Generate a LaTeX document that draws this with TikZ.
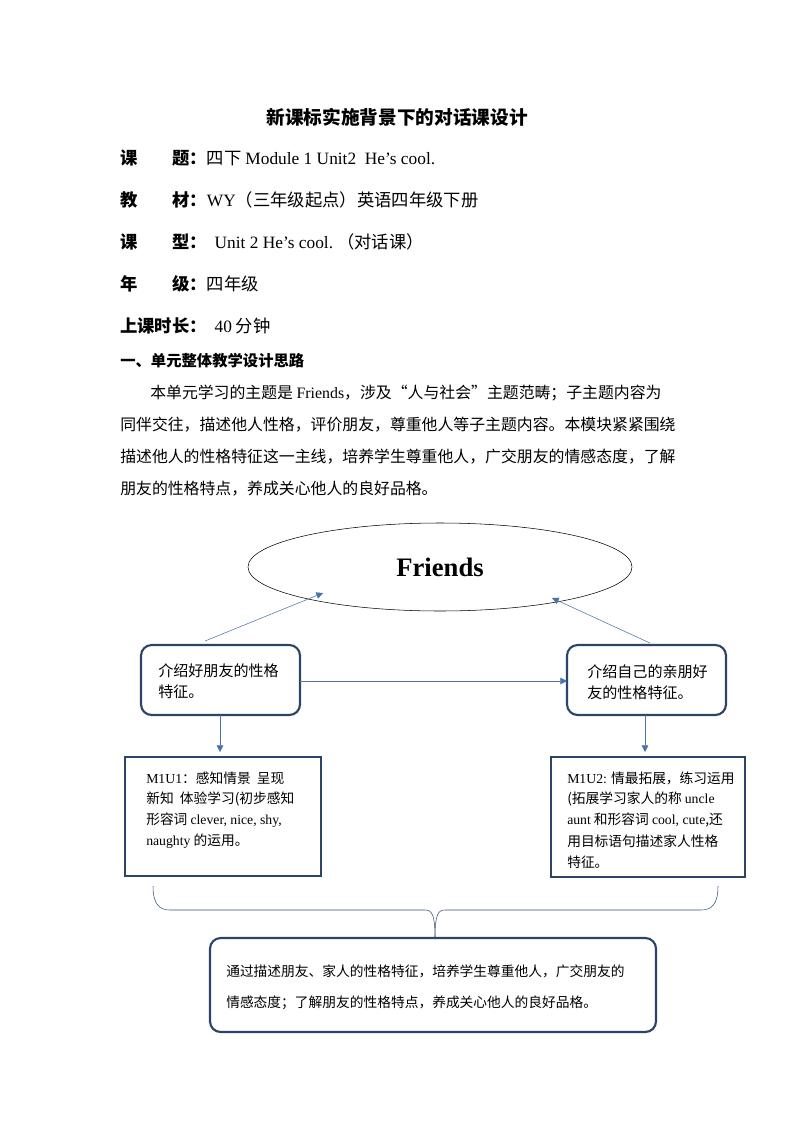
\documentclass[tikz,border=0pt]{standalone}
\usepackage{fontspec}
\setmainfont{Noto Sans CJK SC}
\newfontfamily\lat{Liberation Serif}
\usetikzlibrary{shapes.geometric,arrows.meta}
\definecolor{arrowblue}{HTML}{4A72A8}
\definecolor{boxnavy}{HTML}{2B4468}
\tikzset{
  line/.style={anchor=west,font=\fontsize{13}{15}\selectfont,inner sep=0pt},
  para/.style={anchor=west,font=\fontsize{11.9}{14}\selectfont,inner sep=0pt},
  small/.style={anchor=west,font=\fontsize{10.3}{12}\selectfont,inner sep=0pt},
  boxtext/.style={anchor=west,font=\fontsize{11.3}{13}\selectfont,inner sep=0pt},
  link/.style={draw=arrowblue,-{Triangle[length=5pt,width=5pt]}},
  roundbox/.style={draw=boxnavy,line width=1.6pt,rounded corners=8pt},
  squarebox/.style={draw=boxnavy,line width=2pt}
}
\begin{document}
\begin{tikzpicture}[x=0.75pt,y=-0.75pt]
\useasboundingbox (0,0) rectangle (794,1123);
% header
\node[font=\fontsize{14}{16}\selectfont\bfseries] (title) at (397,117) {新课标实施背景下的对话课设计};
\node[line] (l1) at (120,158) {\textbf{课\hspace{2em}题：}四下 {\lat Module 1 Unit2\ \ He’s cool.}};
\node[line] (l2) at (120,200) {\textbf{教\hspace{2em}材：}{\lat WY}（三年级起点）英语四年级下册};
\node[line] (l3) at (120,242) {\textbf{课\hspace{2em}型：}\ \ {\lat Unit 2 He’s cool.}\ （对话课）};
\node[line] (l4) at (120,284) {\textbf{年\hspace{2em}级：}四年级};
\node[line] (l5) at (120,326) {\textbf{上课时长：}\ \ {\lat 40} 分钟};
\node[line,font=\fontsize{11.5}{13}\selectfont\bfseries] (sec) at (120,361) {一、单元整体教学设计思路};
\node[para] (p1) at (150,393) {本单元学习的主题是 {\lat Friends}，涉及“人与社会”主题范畴；子主题内容为};
\node[para] (p2) at (120,425) {同伴交往，描述他人性格，评价朋友，尊重他人等子主题内容。本模块紧紧围绕};
\node[para] (p3) at (120,457) {描述他人的性格特征这一主线，培养学生尊重他人，广交朋友的情感态度，了解};
\node[para] (p4) at (120,489) {朋友的性格特点，养成关心他人的良好品格。};
% diagram
\node[draw,ellipse,minimum width=384*0.75pt,minimum height=88*0.75pt,
  font=\lat\fontsize{20}{22}\selectfont\bfseries] (friends) at (440,567) {Friends};
\draw[roundbox] (141,645) rectangle (300,715);
\node[boxtext] (lt) at (158,671) {介绍好朋友的性格};
\node[boxtext] (lt2) at (158,692) {特征。};
\draw[roundbox] (567,645) rectangle (726,715);
\node[boxtext] (rt) at (587,672) {介绍自己的亲朋好};
\node[boxtext] (rt2) at (587,693) {友的性格特征。};
\coordinate (lr) at (300,681);
\coordinate (rl) at (567,681);
\draw[link] (lr) -- (rl);
\coordinate (lup) at (205,641);
\coordinate (ltip) at (323,593);
\draw[link] (lup) -- (ltip);
\coordinate (rup) at (650,643);
\coordinate (rtip) at (552,598);
\draw[link] (rup) -- (rtip);
\coordinate (ld) at (220,715);
\coordinate (ldd) at (220,752);
\draw[link] (ld) -- (ldd);
\coordinate (rd) at (645,715);
\coordinate (rdd) at (645,752);
\draw[link] (rd) -- (rdd);
\draw[squarebox] (125,757) rectangle (321,876);
\node[small] (a1) at (146,778) {{\lat M1U1}：感知情景\ \ 呈现};
\node[small] (a2) at (146,799) {新知\ \ 体验学习(初步感知};
\node[small] (a3) at (146,820) {形容词 {\lat clever, nice,\ shy,}};
\node[small] (a4) at (146,841) {{\lat naughty} 的运用。};
\draw[squarebox] (551,757) rectangle (745,877);
\node[small] (b1) at (567,778) {{\lat M1U2:} 情最拓展，练习运用};
\node[small] (b2) at (567,799) {(拓展学习家人的称 {\lat uncle}};
\node[small] (b3) at (567,820) {{\lat aunt} 和形容词 {\lat cool, cute},还};
\node[small] (b4) at (567,841) {用目标语句描述家人性格};
\node[small] (b5) at (567,862) {特征。};
% brace
\draw[draw=arrowblue!70!black,thin] (153,886) .. controls (153,905) and (160,910) .. (170,910)
  -- (425,910) .. controls (432,910) and (435,915) .. (435,937);
\draw[draw=arrowblue!70!black,thin] (718,886) .. controls (718,905) and (711,910) .. (701,910)
  -- (445,910) .. controls (438,910) and (435,915) .. (435,937);
\draw[roundbox] (210,938) rectangle (656,1032);
\node[small] (c1) at (226,971) {通过描述朋友、家人的性格特征，培养学生尊重他人，广交朋友的};
\node[small] (c2) at (226,1003) {情感态度；了解朋友的性格特点，养成关心他人的良好品格。};
\end{tikzpicture}
\end{document}
